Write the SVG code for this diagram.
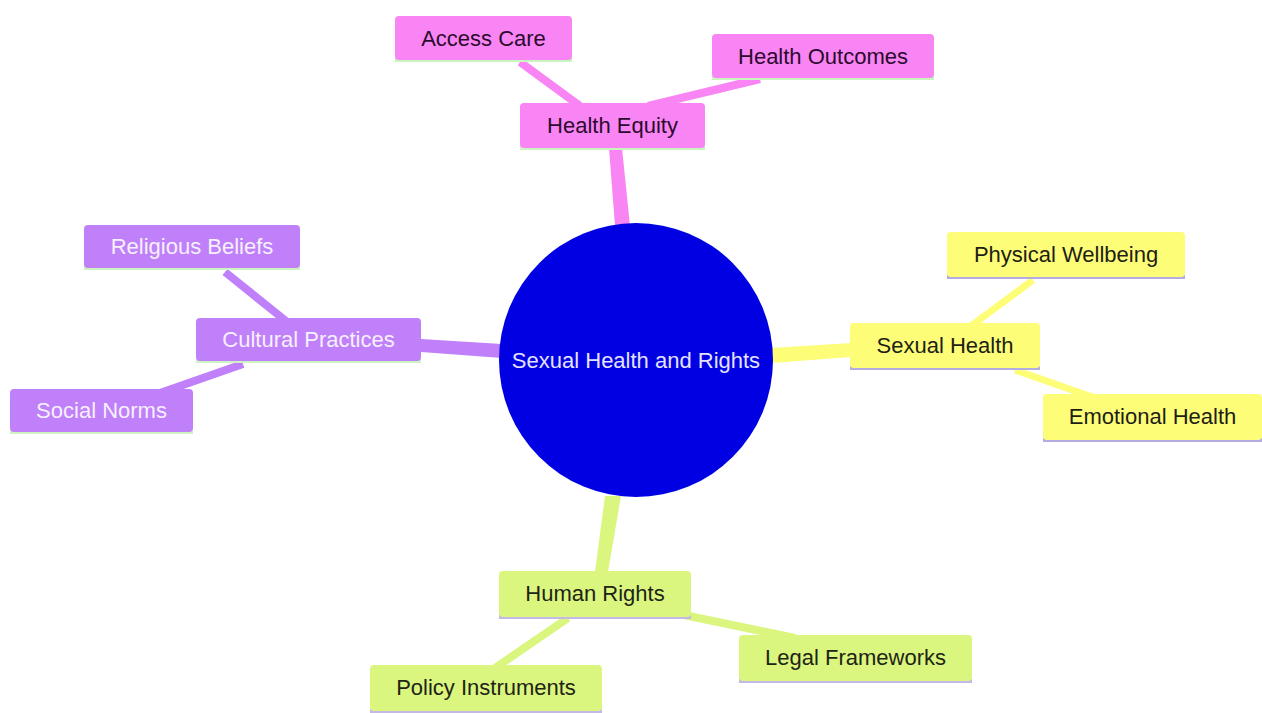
<svg xmlns="http://www.w3.org/2000/svg" width="1262" height="713" viewBox="0 0 1262 713">
<style>
text{font-family:"Liberation Sans",Arial,sans-serif;font-size:22px;text-anchor:middle;dominant-baseline:central}
.pink rect.b{fill:#f985f4}
.pink rect.s{fill:#c9f5bf}
.pink text{fill:#2c0a2e}
.purple rect.b{fill:#c080f9}
.purple rect.s{fill:#cdf3c4}
.purple text{fill:#f6f0ff}
.yellow rect.b{fill:#fdfd78}
.yellow rect.s{fill:#b3ace2}
.yellow text{fill:#1e1e14}
.green rect.b{fill:#daf67f}
.green rect.s{fill:#c4b8e6}
.green text{fill:#1e2414}
.c-pink{stroke:#f985f4}
.c-purple{stroke:#c080f9}
.c-yellow{stroke:#fdfd78}
.c-green{stroke:#daf67f}
#connectors line{stroke-linecap:butt}
</style>
<rect width="1262" height="713" fill="#ffffff"/>
<g id="connectors">
  <polygon points="609,148 622,148 630,226 615,226" fill="#f985f4"/>
  <polygon points="421,339 421,352 502,358 502,344" fill="#c080f9"/>
  <polygon points="772,348 772,363 851,357 851,343" fill="#fdfd78"/>
  <polygon points="605,496 621,496 608,572 595,572" fill="#daf67f"/>
  <line class="c-pink" x1="580" y1="106" x2="520" y2="62" stroke-width="8"/>
  <line class="c-pink" x1="648" y1="106" x2="760" y2="79" stroke-width="8"/>
  <line class="c-purple" x1="286" y1="321" x2="225" y2="272" stroke-width="8"/>
  <line class="c-purple" x1="243" y1="364" x2="160" y2="393" stroke-width="8"/>
  <line class="c-yellow" x1="971" y1="326" x2="1033" y2="280" stroke-width="7"/>
  <line class="c-yellow" x1="1015" y1="370" x2="1095" y2="398" stroke-width="7"/>
  <line class="c-green" x1="568" y1="618" x2="495" y2="668" stroke-width="8"/>
  <line class="c-green" x1="684" y1="615" x2="795" y2="638" stroke-width="8"/>
</g>
<g id="node-root">
  <circle cx="636" cy="360" r="137" fill="#0000e3"/>
  <text x="636" y="360" fill="#e4e2ff" font-size="22.5">Sexual Health and Rights</text>
</g>
<g id="node-health-equity" class="pink">
  <rect class="s" x="520" y="146" width="185" height="4"/>
  <rect class="b" x="520" y="103" width="185" height="45" rx="4"/>
  <text x="612.5" y="125.5">Health Equity</text>
</g>
<g id="node-access-care" class="pink">
  <rect class="s" x="395" y="58" width="177" height="4"/>
  <rect class="b" x="395" y="16" width="177" height="44" rx="4"/>
  <text x="483.5" y="38">Access Care</text>
</g>
<g id="node-health-outcomes" class="pink">
  <rect class="s" x="712" y="76" width="222" height="4"/>
  <rect class="b" x="712" y="34" width="222" height="44" rx="4"/>
  <text x="823" y="56">Health Outcomes</text>
</g>
<g id="node-cultural-practices" class="purple">
  <rect class="s" x="196" y="359" width="225" height="4"/>
  <rect class="b" x="196" y="318" width="225" height="43" rx="4"/>
  <text x="308.5" y="339.5">Cultural Practices</text>
</g>
<g id="node-religious-beliefs" class="purple">
  <rect class="s" x="84" y="266" width="216" height="4"/>
  <rect class="b" x="84" y="225" width="216" height="43" rx="4"/>
  <text x="192" y="246.5">Religious Beliefs</text>
</g>
<g id="node-social-norms" class="purple">
  <rect class="s" x="10" y="430" width="183" height="4"/>
  <rect class="b" x="10" y="389" width="183" height="43" rx="4"/>
  <text x="101.5" y="410.5">Social Norms</text>
</g>
<g id="node-sexual-health" class="yellow">
  <rect class="s" x="850" y="366" width="190" height="4"/>
  <rect class="b" x="850" y="323" width="190" height="45" rx="4"/>
  <text x="945" y="345">Sexual Health</text>
</g>
<g id="node-physical-wellbeing" class="yellow">
  <rect class="s" x="947" y="275" width="238" height="4"/>
  <rect class="b" x="947" y="232" width="238" height="45" rx="4"/>
  <text x="1066" y="254">Physical Wellbeing</text>
</g>
<g id="node-emotional-health" class="yellow">
  <rect class="s" x="1043" y="438" width="219" height="4"/>
  <rect class="b" x="1043" y="394" width="219" height="46" rx="4"/>
  <text x="1152.5" y="416">Emotional Health</text>
</g>
<g id="node-human-rights" class="green">
  <rect class="s" x="499" y="615" width="192" height="4"/>
  <rect class="b" x="499" y="571" width="192" height="46" rx="4"/>
  <text x="595" y="593">Human Rights</text>
</g>
<g id="node-legal-frameworks" class="green">
  <rect class="s" x="739" y="679" width="233" height="4"/>
  <rect class="b" x="739" y="635" width="233" height="46" rx="4"/>
  <text x="855.5" y="657">Legal Frameworks</text>
</g>
<g id="node-policy-instruments" class="green">
  <rect class="s" x="370" y="709" width="232" height="4"/>
  <rect class="b" x="370" y="665" width="232" height="46" rx="4"/>
  <text x="486" y="687">Policy Instruments</text>
</g>
</svg>
